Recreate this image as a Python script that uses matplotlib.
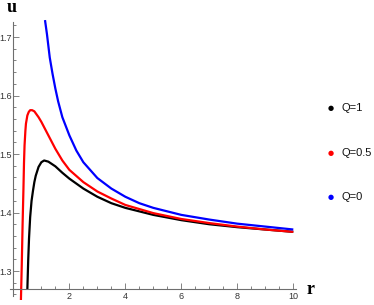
import matplotlib
import matplotlib.pyplot as plt
from matplotlib.ticker import MultipleLocator, FixedLocator

plt.switch_backend("agg")

# values
R_Q1 = [0.50, 0.53, 0.56, 0.60, 0.65, 0.70, 0.75, 0.80, 0.90, 1.00, 1.10, 1.25,
        1.50, 1.75, 2.00, 2.50, 3.00, 3.50, 4.00, 5.00, 6.00, 7.00, 8.00, 9.00, 10.0]
U_Q1 = [1.269, 1.318, 1.356, 1.392, 1.420, 1.437, 1.452, 1.463, 1.478, 1.486, 1.489, 1.487,
        1.479, 1.468, 1.458, 1.441, 1.427, 1.416, 1.408, 1.396, 1.387, 1.380, 1.375, 1.371, 1.367]

R_Q05 = [0.27, 0.30, 0.33, 0.36, 0.38, 0.40, 0.43, 0.45, 0.50, 0.55, 0.60, 0.67, 0.75,
         0.90, 1.00, 1.25, 1.50, 1.75, 2.00, 2.50, 3.00, 3.50, 4.00, 5.00, 6.00, 7.00,
         8.00, 9.00, 10.0]
U_Q05 = [1.250, 1.310, 1.380, 1.440, 1.485, 1.515, 1.540, 1.552, 1.566, 1.572, 1.575, 1.575, 1.573,
         1.563, 1.555, 1.532, 1.509, 1.489, 1.473, 1.452, 1.436, 1.424, 1.413, 1.399, 1.389, 1.382,
         1.376, 1.371, 1.367]

R_Q0 = [1.13, 1.20, 1.30, 1.40, 1.50, 1.60, 1.75, 2.00, 2.25, 2.50, 3.00, 3.50, 4.00,
        4.50, 5.00, 6.00, 7.00, 8.00, 9.00, 10.0]
U_Q0 = [1.729, 1.705, 1.665, 1.637, 1.612, 1.590, 1.563, 1.532, 1.506, 1.486, 1.459, 1.441, 1.427,
        1.416, 1.408, 1.396, 1.388, 1.381, 1.376, 1.371]

LABELS = ["Q=1", "Q=0.5", "Q=0"]
COLORS = ["#000000", "#ff0000", "#0000ff"]

X_TICKS = [2, 4, 6, 8, 10]
Y_TICKS = [1.3, 1.4, 1.5, 1.6, 1.7]

TICK_FONT = ["Liberation Sans", "DejaVu Sans"]

W, H = 374, 305
fig = plt.figure(figsize=(W / 100, H / 100), dpi=100)

# axes box in pixels: x 10..296, y 19.5..300.3
left, right, top, bottom = 10.0, 296.1, 19.5, 300.3
ax = fig.add_axes([left / W, 1 - bottom / H, (right - left) / W, (bottom - top) / H])
ax.set_xlim(-0.12, 10.1)
ax.set_ylim(1.25, 1.73)

for r, u, c in zip([R_Q1, R_Q05, R_Q0], [U_Q1, U_Q05, U_Q0], COLORS):
    ax.plot(r, u, color=c, lw=1.6, solid_capstyle="butt", clip_on=(c != "#0000ff"))

for s in ["top", "right"]:
    ax.spines[s].set_visible(False)
ax.spines["left"].set_position(("data", 0))
ax.spines["bottom"].set_position(("data", 1.27))
ax.spines["left"].set_bounds(1.258, 1.725)
for s in ["left", "bottom"]:
    ax.spines[s].set_color("#6e6e6e")
    ax.spines[s].set_linewidth(0.8)

ax.xaxis.set_major_locator(FixedLocator(X_TICKS))
ax.xaxis.set_minor_locator(MultipleLocator(0.5))
ax.yaxis.set_major_locator(FixedLocator(Y_TICKS))
ax.yaxis.set_minor_locator(MultipleLocator(0.02))
ax.set_xticklabels([str(t) for t in X_TICKS])
ax.set_yticklabels([f"{t:.1f}" for t in Y_TICKS])

ax.tick_params(which="both", direction="in", colors="#6e6e6e", labelcolor="#333333",
               width=0.6)
ax.tick_params(which="major", length=4, labelsize=6.5)
ax.tick_params(axis="y", which="major", pad=1.2)
ax.tick_params(axis="x", which="major", pad=2.5)
ax.tick_params(which="minor", length=2)
for lab in ax.get_xticklabels() + ax.get_yticklabels():
    lab.set_family(TICK_FONT)

# axis labels as in the reference
fig.text(12 / W, 1 - 8 / H, "u", fontsize=13, fontweight="bold", family="Liberation Serif",
         ha="center", va="center")
fig.text(311 / W, 1 - 289 / H, "r", fontsize=13, fontweight="bold", family="Liberation Serif",
         ha="center", va="center")

# legend of dots
for i, (lab, c) in enumerate(zip(LABELS, COLORS)):
    y = 108 + 44.5 * i
    fig.text(331 / W, 1 - y / H, "\u25cf", color=c, fontsize=5, ha="center", va="center")
    fig.text(341 / W, 1 - y / H, lab, color="#111111", fontsize=8, family=TICK_FONT,
             ha="left", va="center")

fig.savefig("out.png", dpi=100)
